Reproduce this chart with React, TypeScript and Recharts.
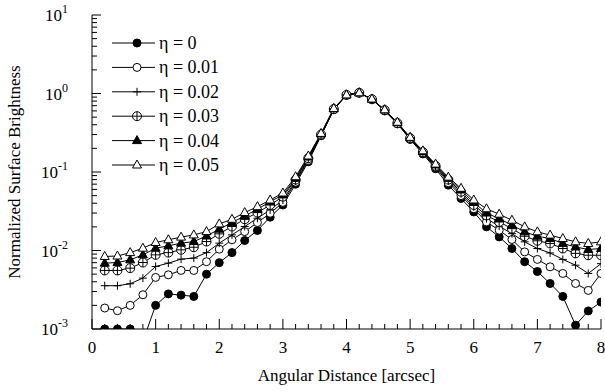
import { LineChart, Line, XAxis, YAxis, Legend } from "recharts";

const distance = [
  0.2, 0.4, 0.6, 0.8, 1.0, 1.2, 1.4, 1.6, 1.8, 2.0, 2.2, 2.4, 2.6, 2.8, 3.0, 3.2, 3.4, 3.6, 3.8, 4.0,
  4.2, 4.4, 4.6, 4.8, 5.0, 5.2, 5.4, 5.6, 5.8, 6.0, 6.2, 6.4, 6.6, 6.8, 7.0, 7.2, 7.4, 7.6, 7.8, 8.0,
];

const eta0 = [
  0.001, 0.001, 0.001, 0.0007, 0.002, 0.0028, 0.0027, 0.0026, 0.005, 0.007, 0.0094, 0.0134, 0.018, 0.0266,
  0.038, 0.07, 0.135, 0.29, 0.62, 0.95, 1.02, 0.84, 0.6, 0.41, 0.26, 0.17, 0.11, 0.068, 0.046, 0.031, 0.02,
  0.0149, 0.0106, 0.0072, 0.0054, 0.0038, 0.0026, 0.00112, 0.0017, 0.0022,
];
const eta001 = [
  0.00185, 0.00171, 0.002, 0.00273, 0.00454, 0.0049, 0.00557, 0.00557, 0.0072, 0.0104, 0.0137, 0.0174,
  0.0227, 0.0298, 0.041, 0.074, 0.14, 0.29, 0.63, 0.96, 1.02, 0.84, 0.61, 0.415, 0.265, 0.175, 0.115, 0.073,
  0.05, 0.034, 0.0231, 0.0181, 0.0138, 0.0096, 0.0077, 0.0062, 0.0051, 0.0038, 0.0031, 0.0051,
];
const eta002 = [
  0.00356, 0.00356, 0.00377, 0.00445, 0.00626, 0.0069, 0.00776, 0.008, 0.0094, 0.0124, 0.0158, 0.0202,
  0.0258, 0.0329, 0.044, 0.077, 0.145, 0.295, 0.63, 0.96, 1.02, 0.84, 0.61, 0.42, 0.268, 0.178, 0.118, 0.077,
  0.053, 0.036, 0.0255, 0.0204, 0.0164, 0.0129, 0.0106, 0.0093, 0.0077, 0.0065, 0.0051, 0.0068,
];
const eta003 = [
  0.00557, 0.00557, 0.00596, 0.00703, 0.0088, 0.0094, 0.0102, 0.011, 0.013, 0.0163, 0.0202, 0.025, 0.0304,
  0.038, 0.0485, 0.08, 0.15, 0.3, 0.635, 0.96, 1.02, 0.845, 0.615, 0.42, 0.27, 0.18, 0.12, 0.08, 0.056, 0.038,
  0.028, 0.0231, 0.019, 0.0152, 0.0133, 0.0123, 0.0106, 0.0092, 0.0087, 0.0087,
];
const eta004 = [
  0.0069, 0.00703, 0.0076, 0.0088, 0.0107, 0.01146, 0.0124, 0.013, 0.0153, 0.0187, 0.0227, 0.0276, 0.0335,
  0.042, 0.051, 0.083, 0.155, 0.305, 0.64, 0.96, 1.02, 0.845, 0.62, 0.425, 0.273, 0.183, 0.123, 0.083, 0.059,
  0.041, 0.03, 0.0255, 0.021, 0.0173, 0.0152, 0.0142, 0.0123, 0.0111, 0.0103, 0.0106,
];
const eta005 = [
  0.0084, 0.0085, 0.0094, 0.0107, 0.01264, 0.0137, 0.0148, 0.0158, 0.0174, 0.0218, 0.025, 0.0304, 0.0362,
  0.044, 0.054, 0.087, 0.16, 0.31, 0.645, 0.96, 1.02, 0.85, 0.62, 0.43, 0.276, 0.186, 0.126, 0.086, 0.062,
  0.044, 0.034, 0.029, 0.0243, 0.02, 0.0173, 0.0157, 0.0142, 0.0129, 0.0123, 0.0129,
];

const etaLabels = ["η = 0", "η = 0.01", "η = 0.02", "η = 0.03", "η = 0.04", "η = 0.05"];
const markerKinds = ["filledCircle", "openCircle", "plus", "crossCircle", "filledTri", "openTri"];
const seriesKeys = ["e0", "e1", "e2", "e3", "e4", "e5"];
const seriesValues = [eta0, eta001, eta002, eta003, eta004, eta005];

const xTicks = [
  0, 0.2, 0.4, 0.6, 0.8, 1, 1.2, 1.4, 1.6, 1.8, 2, 2.2, 2.4, 2.6, 2.8, 3, 3.2, 3.4, 3.6, 3.8, 4, 4.2, 4.4, 4.6,
  4.8, 5, 5.2, 5.4, 5.6, 5.8, 6, 6.2, 6.4, 6.6, 6.8, 7, 7.2, 7.4, 7.6, 7.8, 8,
];
const yDecades = [0.001, 0.01, 0.1, 1];
const yTicks = [...yDecades.flatMap((d) => [1, 2, 3, 4, 5, 6, 7, 8, 9].map((m) => +(d * m).toPrecision(3))), 10];

const rows = distance.map((d, i) => {
  const row: Record<string, number> = { d };
  seriesKeys.forEach((k, s) => (row[k] = seriesValues[s][i]));
  return row;
});

const FONT = "'Liberation Serif', 'Times New Roman', serif";

function Marker({ kind, cx, cy }: { kind: string; cx: number; cy: number }) {
  if (cx == null || cy == null || isNaN(cx) || isNaN(cy)) return null;
  switch (kind) {
    case "filledCircle":
      return <circle cx={cx} cy={cy} r={4} fill="#000" stroke="#000" />;
    case "openCircle":
      return <circle cx={cx} cy={cy} r={4} fill="#fff" stroke="#000" />;
    case "plus":
      return <path d={`M${cx - 4},${cy}H${cx + 4}M${cx},${cy - 4}V${cy + 4}`} stroke="#000" />;
    case "crossCircle":
      return (
        <g>
          <circle cx={cx} cy={cy} r={4.5} fill="#fff" stroke="#000" />
          <path d={`M${cx - 4.5},${cy}H${cx + 4.5}M${cx},${cy - 4.5}V${cy + 4.5}`} stroke="#000" />
        </g>
      );
    case "filledTri":
      return <path d={`M${cx},${cy - 5}L${cx + 4.5},${cy + 3}L${cx - 4.5},${cy + 3}Z`} fill="#000" stroke="#000" />;
    default:
      return <path d={`M${cx},${cy - 5}L${cx + 4.5},${cy + 3}L${cx - 4.5},${cy + 3}Z`} fill="#fff" stroke="#000" />;
  }
}

const isInt = (v: number) => Math.abs(v - Math.round(v)) < 1e-6;
const isDecade = (v: number) => isInt(Math.log10(v));

const BottomTick = (props: any) => {
  const { x, y, payload } = props;
  const major = isInt(payload.value);
  return (
    <g>
      <line x1={x} y1={y} x2={x} y2={y - (major ? 10 : 5)} stroke="#000" />
      {major && (
        <text x={x} y={y + 24} textAnchor="middle" fontFamily={FONT} fontSize={17} fill="#000">
          {Math.round(payload.value)}
        </text>
      )}
    </g>
  );
};

const TopTick = (props: any) => {
  const { x, y, payload } = props;
  const major = isInt(payload.value);
  return <line x1={x} y1={y} x2={x} y2={y + (major ? 10 : 5)} stroke="#000" />;
};

const LeftTick = (props: any) => {
  const { x, y, payload } = props;
  const major = isDecade(payload.value);
  const exp = Math.round(Math.log10(payload.value));
  return (
    <g>
      <line x1={x} y1={y} x2={x + (major ? 9 : 5)} y2={y} stroke="#000" />
      {major && (
        <text x={x - 24} y={y + 6} textAnchor="end" fontFamily={FONT} fontSize={17} fill="#000">
          10
          <tspan dy={-8} fontSize={12}>
            {exp}
          </tspan>
        </text>
      )}
    </g>
  );
};

const RightTick = (props: any) => {
  const { x, y, payload } = props;
  const major = isDecade(payload.value);
  return <line x1={x} y1={y} x2={x - (major ? 9 : 5)} y2={y} stroke="#000" />;
};

const renderLegend = () => (
  <svg width={130} height={150} style={{ fontFamily: FONT }}>
    {etaLabels.map((label, i) => {
      const cy = 13 + i * 24.4;
      return (
        <g key={label}>
          <line x1={7} y1={cy} x2={50} y2={cy} stroke="#000" />
          <Marker kind={markerKinds[i]} cx={32} cy={cy} />
          <text x={54} y={cy + 6} fontFamily={FONT} fontSize={18} fill="#000">
            {label}
          </text>
        </g>
      );
    })}
  </svg>
);

export default function App() {
  return (
    <div style={{ position: "absolute", left: 0, top: 0, background: "#fff" }}>
      <LineChart width={605} height={391} data={rows} margin={{ top: 15, right: 4, bottom: 0, left: 0 }}>
        <XAxis
          dataKey="d"
          type="number"
          domain={[0, 8]}
          ticks={xTicks}
          interval={0}
          height={62}
          tickSize={0}
          tickMargin={0}
          tickLine={false}
          axisLine={{ stroke: "#000" }}
          tick={<BottomTick />}
          allowDataOverflow
          label={{
            content: (p: any) => (
              <text
                x={p.viewBox.x + p.viewBox.width / 2}
                y={p.viewBox.y + 52}
                textAnchor="middle"
                fontFamily={FONT}
                fontSize={17}
                fill="#000"
              >
                Angular Distance [arcsec]
              </text>
            ),
          }}
        />
        <XAxis
          xAxisId="top"
          orientation="top"
          dataKey="d"
          type="number"
          domain={[0, 8]}
          ticks={xTicks}
          interval={0}
          height={0}
          tickSize={0}
          tickMargin={0}
          tickLine={false}
          axisLine={{ stroke: "#000" }}
          tick={<TopTick />}
        />
        <YAxis
          yAxisId="left"
          type="number"
          scale="log"
          domain={[0.001, 10]}
          allowDataOverflow
          ticks={yTicks}
          interval={0}
          width={92}
          tickSize={0}
          tickMargin={0}
          tickLine={false}
          axisLine={{ stroke: "#000" }}
          tick={<LeftTick />}
          label={{
            content: (p: any) => {
              const cy = p.viewBox.y + p.viewBox.height / 2;
              return (
                <text
                  x={14}
                  y={cy}
                  transform={`rotate(-90 14 ${cy})`}
                  textAnchor="middle"
                  dominantBaseline="central"
                  fontFamily={FONT}
                  fontSize={17}
                  fill="#000"
                >
                  Normalized Surface Brightness
                </text>
              );
            },
          }}
        />
        <YAxis
          yAxisId="right"
          orientation="right"
          type="number"
          scale="log"
          domain={[0.001, 10]}
          allowDataOverflow
          ticks={yTicks}
          interval={0}
          width={0}
          tickSize={0}
          tickMargin={0}
          tickLine={false}
          axisLine={{ stroke: "#000" }}
          tick={<RightTick />}
        />
        <Legend
          layout="vertical"
          align="center"
          verticalAlign="middle"
          wrapperStyle={{ position: "absolute", top: 30, left: 105, width: 130, height: 150 }}
          content={renderLegend}
        />
        {seriesKeys.map((k, s) => (
          <Line
            key={k}
            yAxisId="left"
            dataKey={k}
            stroke="#000"
            strokeWidth={1}
            isAnimationActive={false}
            activeDot={false}
            dot={(p: any) => <Marker key={`${k}-${p.index}`} kind={markerKinds[s]} cx={p.cx} cy={p.cy} />}
          />
        ))}
      </LineChart>
    </div>
  );
}
